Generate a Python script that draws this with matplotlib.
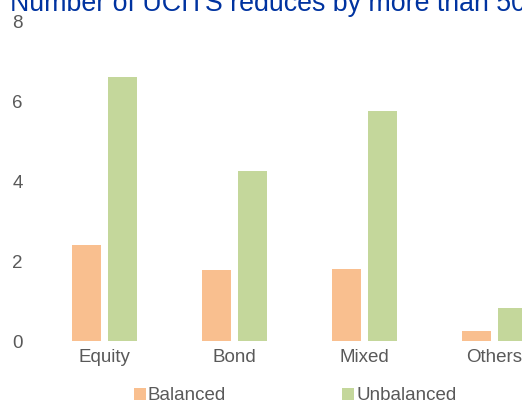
import matplotlib.pyplot as plt
import numpy as np

plt.rcParams['font.family'] = ['Liberation Sans', 'DejaVu Sans']

categories = ["Equity", "Bond", "Mixed", "Others"]
balanced = [2.4, 1.78, 1.8, 0.25]
unbalanced = [6.6, 4.25, 5.75, 0.83]
yticks = [0, 2, 4, 6, 8]

text_col = "#595959"
fs = 13.5
fig = plt.figure(figsize=(5.22, 4.03), dpi=100)
# axes runs past the right edge like the original crop
ax = fig.add_axes([39.5 / 522, 62 / 403, 520 / 522, 320 / 403])

x = np.arange(len(categories))
w = 0.223
ax.bar(x - 0.142, balanced, w, color="#F9BF8F", label="Balanced")
ax.bar(x + 0.142, unbalanced, w, color="#C4D79B", label="Unbalanced")

ax.set_xlim(-0.5, 3.5)
ax.set_ylim(0, 8)
ax.set_xticks(x)
ax.set_xticklabels(categories)
ax.set_yticks(yticks)
ax.tick_params(length=0, labelsize=fs, colors=text_col)
ax.tick_params(axis='y', pad=12)
ax.tick_params(axis='x', pad=6)
for s in ax.spines.values():
    s.set_visible(False)

fig.text(10 / 522, 1.0 - 11 / 403, "Number of UCITS reduces by more than 50%",
         color="#0033A0", fontsize=19.3, va="baseline")

fig.legend(loc="center left", bbox_to_anchor=(134 / 522, 1 - 396 / 403), ncol=2,
           frameon=False, borderpad=0, borderaxespad=0,
           fontsize=fs, labelcolor=text_col, handlelength=0.62, handleheight=0.6,
           handletextpad=0.12, columnspacing=6.2)

fig.savefig("out.png", dpi=100)
